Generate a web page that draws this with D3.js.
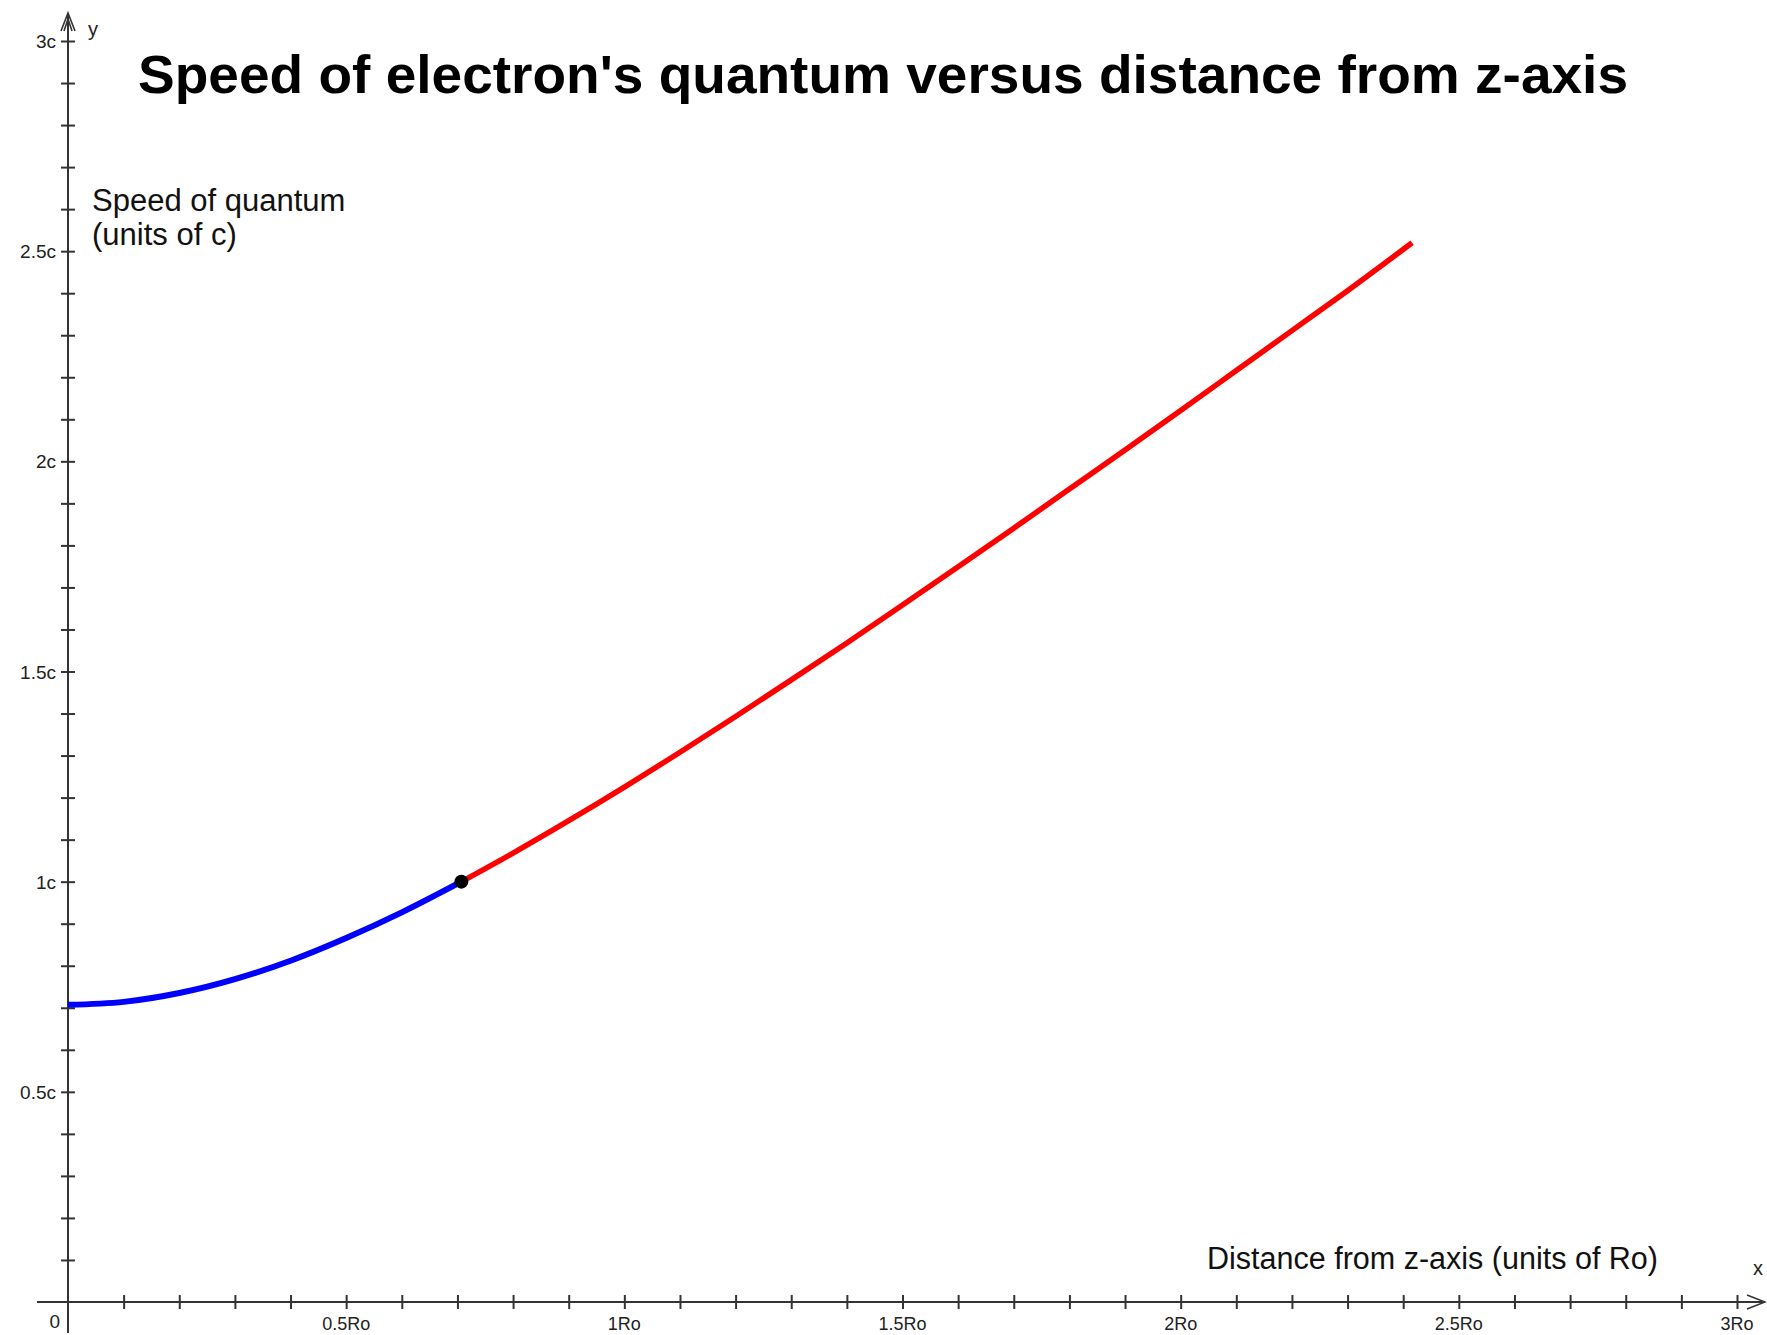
<!DOCTYPE html>
<html><head><meta charset="utf-8">
<script src="https://cdn.jsdelivr.net/npm/d3@7"></script>
<style>body{margin:0;background:#fff}svg{display:block}</style>
</head><body>
<svg id="c" width="1767" height="1335"></svg>
<script>
// Data
const blueX = [0, 0.1, 0.2, 0.3, 0.4, 0.5, 0.6, 0.7071];
const blueY = [0.707, 0.714, 0.735, 0.768, 0.812, 0.866, 0.927, 1.0];
const redX = [0.7071, 0.8, 0.9, 1.0, 1.1, 1.2, 1.3, 1.4, 1.5, 1.6, 1.7, 1.8, 1.9, 2.0, 2.1, 2.2, 2.3, 2.416];
const redY = [1.0, 1.068, 1.145, 1.225, 1.308, 1.393, 1.480, 1.568, 1.658, 1.749, 1.841, 1.934, 2.027, 2.121, 2.216, 2.311, 2.406, 2.52];
const junction = [0.7071, 1.0];
const xTickLabels = ["0.5Ro", "1Ro", "1.5Ro", "2Ro", "2.5Ro", "3Ro"];
const yTickLabels = ["0.5c", "1c", "1.5c", "2c", "2.5c", "3c"];
const majorTicks = [0.5, 1, 1.5, 2, 2.5, 3];
const minorTicks = d3.range(1, 31).map(i => i / 10);

const svg = d3.select("#c");
const x = d3.scaleLinear().domain([0, 3]).range([68, 1737]);
const y = d3.scaleLinear().domain([0, 3]).range([1302, 41]);
const axisColor = "#333";

// Axis lines
svg.append("line").attr("x1", 37).attr("x2", 1764).attr("y1", y(0)).attr("y2", y(0))
  .attr("stroke", axisColor).attr("stroke-width", 2);
svg.append("line").attr("x1", x(0)).attr("x2", x(0)).attr("y1", 1333).attr("y2", 13)
  .attr("stroke", axisColor).attr("stroke-width", 2);
// arrows
svg.append("path").attr("d", `M${x(0)-7},31 L${x(0)},13 L${x(0)+7},31 M${x(0)-4},31 L${x(0)},19 L${x(0)+4},31`)
  .attr("fill", "none").attr("stroke", axisColor).attr("stroke-width", 1.6);
svg.append("path").attr("d", `M1747,${y(0)-7} L1765,${y(0)} L1747,${y(0)+7}`)
  .attr("fill", "none").attr("stroke", axisColor).attr("stroke-width", 1.6);

// Ticks via d3 axes
const xt = svg.append("g").attr("transform", `translate(0,${y(0)})`)
  .call(d3.axisBottom(x).tickValues(minorTicks).tickSize(7).tickFormat(""));
xt.select(".domain").remove();
xt.selectAll(".tick line").attr("y1", -7).attr("y2", 7).attr("stroke", axisColor).attr("stroke-width", 2);

const yt = svg.append("g").attr("transform", `translate(${x(0)},0)`)
  .call(d3.axisLeft(y).tickValues(minorTicks).tickSize(7).tickFormat(""));
yt.select(".domain").remove();
yt.selectAll(".tick line").attr("x1", -7).attr("x2", 7).attr("stroke", axisColor).attr("stroke-width", 2);

const font = "'Liberation Sans', Arial, sans-serif";
// Tick labels
svg.append("g").selectAll("text").data(majorTicks).join("text")
  .attr("x", d => x(d)).attr("y", 1330).attr("text-anchor", "middle")
  .attr("font-family", font).attr("font-size", 18).attr("fill", "#222")
  .text((d, i) => xTickLabels[i]);
svg.append("g").selectAll("text").data(majorTicks).join("text")
  .attr("x", 56).attr("y", d => y(d) + 7).attr("text-anchor", "end")
  .attr("font-family", font).attr("font-size", 19).attr("fill", "#222")
  .text((d, i) => yTickLabels[i]);
svg.append("text").attr("x", 60).attr("y", 1328).attr("text-anchor", "end")
  .attr("font-family", font).attr("font-size", 19).attr("fill", "#222").text("0");
svg.append("text").attr("x", 88).attr("y", 36)
  .attr("font-family", font).attr("font-size", 20).attr("fill", "#222").text("y");
svg.append("text").attr("x", 1753).attr("y", 1275)
  .attr("font-family", font).attr("font-size", 20).attr("fill", "#222").text("x");

// Axis titles
svg.append("text").attr("x", 92).attr("y", 211)
  .attr("font-family", font).attr("font-size", 31).attr("fill", "#111").text("Speed of quantum");
svg.append("text").attr("x", 92).attr("y", 245)
  .attr("font-family", font).attr("font-size", 31).attr("fill", "#111").text("(units of c)");
svg.append("text").attr("x", 1207).attr("y", 1269)
  .attr("font-family", font).attr("font-size", 31).attr("fill", "#111")
  .attr("textLength", 451).attr("lengthAdjust", "spacingAndGlyphs")
  .text("Distance from z-axis (units of Ro)");

// Title
svg.append("text").attr("x", 138).attr("y", 93)
  .attr("font-family", font).attr("font-weight", "bold").attr("font-size", 53).attr("fill", "#000")
  .attr("textLength", 1490).attr("lengthAdjust", "spacingAndGlyphs")
  .text("Speed of electron's quantum versus distance from z-axis");

// Curves
const line = d3.line().x(d => x(d[0])).y(d => y(d[1])).curve(d3.curveMonotoneX);
svg.append("path").datum(blueX.map((v, i) => [v, blueY[i]])).attr("d", line)
  .attr("fill", "none").attr("stroke", "#0000ff").attr("stroke-width", 6);
svg.append("path").datum(redX.map((v, i) => [v, redY[i]])).attr("d", line)
  .attr("fill", "none").attr("stroke", "#ff0000").attr("stroke-width", 5.5);
svg.append("circle").attr("cx", x(junction[0])).attr("cy", y(junction[1])).attr("r", 7).attr("fill", "#000");
</script>
</body></html>
